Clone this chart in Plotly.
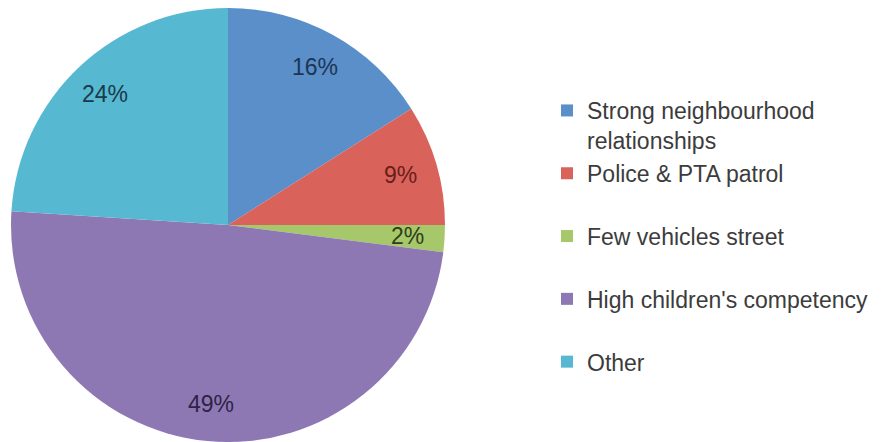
import math
import plotly.graph_objects as go

labels = ["Strong neighbourhood<br>relationships", "Police & PTA patrol<br> ",
          "Few vehicles street<br> ", "High children's competency<br> ", "Other"]
values = [16, 9, 2, 49, 24]
colors = ["#5B8FC9", "#D9625B", "#A6C86A", "#8E78B4", "#57B8D2"]
text_colors = ["#1C3557", "#6A1E1A", "#2F3D1A", "#2E2347", "#1A3A4A"]

W, H = 890, 442
mt, mb, ml, mr = 8, 0, 0, 0
pw, ph = W - ml - mr, H - mt - mb
R = ph / 2.0
cx_px = 228
dom_x = [(cx_px - R) / pw, (cx_px + R) / pw]
dom_y = [0, 1]

fig = go.Figure(go.Pie(
    labels=labels, values=values, sort=False, direction="clockwise", rotation=0,
    marker=dict(colors=colors, line=dict(width=0)),
    textinfo="none", hoverinfo="label+percent",
    domain=dict(x=dom_x, y=dom_y),
))

# percentage labels placed at the slice mid-angles (derived from values)
total = sum(values)
cum = 0
annotations = []
cx = (dom_x[0] + dom_x[1]) / 2
cy = (dom_y[0] + dom_y[1]) / 2
for v, tc in zip(values, text_colors):
    mid = (cum + v / 2) / total * 2 * math.pi
    cum += v
    r = 0.83 * R
    annotations.append(dict(
        x=cx + r * math.sin(mid) / pw, y=cy + r * math.cos(mid) / ph,
        xref="paper", yref="paper", showarrow=False,
        text=f"{round(v / total * 100)}%",
        font=dict(family="Liberation Sans, Arial", size=23, color=tc),
        xanchor="center", yanchor="middle",
    ))

fig.update_layout(
    width=W, height=H,
    margin=dict(l=ml, r=mr, t=mt, b=mb),
    paper_bgcolor="white", plot_bgcolor="white",
    showlegend=True,
    legend=dict(
        x=547 / pw, y=1 - (89 - mt) / ph, xanchor="left", yanchor="top",
        font=dict(family="Liberation Sans, Arial", size=23, color="#3C3C3C"),
        valign="top", bgcolor="rgba(0,0,0,0)",
    ),
    annotations=annotations,
)

fig.write_html("out.html")
